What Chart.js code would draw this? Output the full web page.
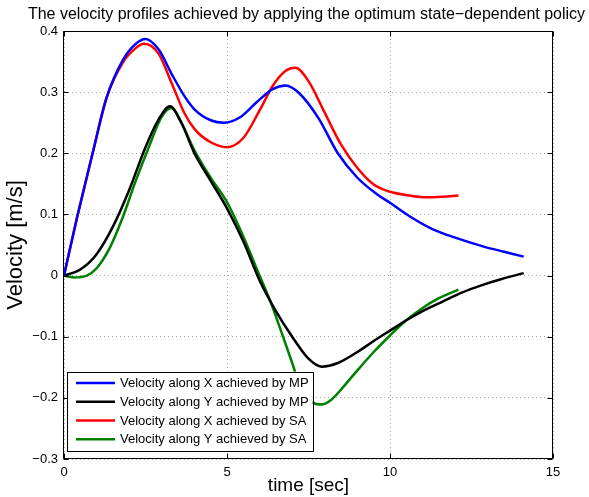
<!DOCTYPE html>
<html lang="en">
<head>
<meta charset="UTF-8">
<title>Velocity profiles</title>
<script src="https://cdn.jsdelivr.net/npm/chart.js"></script>
<style>
  html, body { margin: 0; padding: 0; background: #fff; }
</style>
</head>
<body>
<canvas id="velocityChart" width="589" height="497"></canvas>
<script>
// time [sec] / velocity [m/s] samples for each profile
const tXmp = [0, 0.4, 0.9, 1.3, 1.8, 2.2, 2.5, 2.9, 3.3, 3.7, 4.0, 4.5, 4.9, 5.4, 5.9, 6.4, 6.8, 7.2, 7.8, 8.4, 9.0, 9.6, 10.0, 10.6, 11.3, 12.0, 12.9, 13.5, 14.1];
const vXmp = [0, 0.095, 0.205, 0.29, 0.352, 0.379, 0.387, 0.37, 0.33, 0.293, 0.272, 0.254, 0.25, 0.259, 0.283, 0.305, 0.311, 0.299, 0.258, 0.2, 0.16, 0.133, 0.119, 0.097, 0.076, 0.062, 0.047, 0.039, 0.031];

const tYmp = [0, 0.5, 1.0, 1.5, 2.0, 2.5, 2.9, 3.25, 3.6, 4.0, 4.5, 5.0, 5.5, 6.0, 6.5, 7.0, 7.5, 7.9, 8.4, 9.0, 9.5, 10.0, 10.5, 11.0, 11.6, 12.2, 12.8, 13.4, 14.1];
const vYmp = [0, 0.01, 0.035, 0.08, 0.14, 0.21, 0.255, 0.277, 0.25, 0.2, 0.155, 0.11, 0.056, -0.008, -0.058, -0.1, -0.136, -0.149, -0.143, -0.125, -0.107, -0.09, -0.073, -0.058, -0.043, -0.028, -0.016, -0.006, 0.004];

const tXsa = [0, 0.4, 0.9, 1.3, 1.8, 2.2, 2.45, 2.9, 3.3, 3.7, 4.0, 4.5, 5.0, 5.5, 6.0, 6.4, 6.8, 7.1, 7.5, 8.0, 8.5, 9.0, 9.5, 10.0, 10.6, 11.1, 11.6, 12.1];
const vXsa = [0, 0.095, 0.205, 0.29, 0.348, 0.372, 0.379, 0.363, 0.315, 0.265, 0.24, 0.218, 0.21, 0.225, 0.27, 0.31, 0.335, 0.34, 0.318, 0.266, 0.214, 0.176, 0.149, 0.137, 0.131, 0.128, 0.129, 0.131];

const tYsa = [0, 0.3, 0.7, 1.0, 1.4, 1.8, 2.2, 2.6, 3.0, 3.3, 3.6, 4.0, 4.5, 5.0, 5.5, 6.0, 6.3, 6.7, 7.0, 7.3, 7.6, 7.9, 8.2, 8.6, 9.0, 9.5, 10.0, 10.5, 11.0, 11.5, 12.1];
const vYsa = [0, -0.003, 0.0, 0.012, 0.045, 0.095, 0.155, 0.21, 0.26, 0.274, 0.25, 0.205, 0.16, 0.12, 0.064, 0.0, -0.038, -0.097, -0.143, -0.19, -0.207, -0.211, -0.203, -0.18, -0.155, -0.125, -0.098, -0.073, -0.053, -0.037, -0.023];

const seriesNames = [
  'Velocity along X achieved by MP',
  'Velocity along Y achieved by MP',
  'Velocity along X achieved by SA',
  'Velocity along Y achieved by SA'
];

const xTickValues = [0, 5, 10, 15];
const xTickLabels = ['0', '5', '10', '15'];
const yTickValues = [-0.3, -0.2, -0.1, 0, 0.1, 0.2, 0.3, 0.4];
const yTickLabels = ['\u22120.3', '\u22120.2', '\u22120.1', '0', '0.1', '0.2', '0.3', '0.4'];

const chartTitle = 'The velocity profiles achieved by applying the optimum state\u2212dependent policy';

const FONT = '"Liberation Sans", Arial, Helvetica, sans-serif';

function toPoints(ts, vs) {
  return ts.map((t, i) => ({ x: t, y: vs[i] }));
}

function makeSet(label, ts, vs, color) {
  return {
    label: label,
    data: toPoints(ts, vs),
    borderColor: color,
    backgroundColor: color,
    borderWidth: 2.5,
    pointRadius: 0,
    cubicInterpolationMode: 'monotone',
    fill: false
  };
}

// MATLAB-style box, inward tick marks, title and the legend in the lower-left corner
const axesBox = {
  id: 'axesBox',
  afterDraw(chart) {
    const { ctx, chartArea: a, scales } = chart;
    const L = Math.round(a.left) - 0.5, R = Math.round(a.right) - 0.5;
    const T = Math.round(a.top) + 0.5, B = Math.round(a.bottom) - 0.5;
    ctx.save();
    ctx.strokeStyle = '#000';
    ctx.lineWidth = 1;
    ctx.beginPath();
    ctx.rect(L, T, R - L, B - T);
    ctx.stroke();

    const tick = 5;
    ctx.beginPath();
    xTickValues.forEach(v => {
      const px = Math.round(scales.x.getPixelForValue(v)) + 0.5;
      ctx.moveTo(px, B); ctx.lineTo(px, B - tick);
      ctx.moveTo(px, T); ctx.lineTo(px, T + tick);
    });
    yTickValues.forEach(v => {
      const py = Math.round(scales.y.getPixelForValue(v)) + 0.5;
      ctx.moveTo(L, py); ctx.lineTo(L + tick, py);
      ctx.moveTo(R, py); ctx.lineTo(R - tick, py);
    });
    ctx.stroke();

    // title above the axes
    ctx.fillStyle = '#000';
    ctx.font = '16px ' + FONT;
    ctx.textAlign = 'center';
    ctx.textBaseline = 'middle';
    ctx.fillText(chartTitle, (a.left + a.right) / 2 - 2, 15);

    // legend
    ctx.font = '13px ' + FONT;
    const rowH = 18.7;
    const sets = chart.data.datasets;
    const textW = Math.max(...sets.map(d => ctx.measureText(d.label).width));
    const bx = L + 3.5, bw = 53 + textW + 4;
    const bh = rowH * sets.length + 4;
    const by = B - 8 - bh;
    ctx.fillStyle = '#fff';
    ctx.fillRect(bx, by, bw, bh);
    ctx.strokeStyle = '#000';
    ctx.lineWidth = 1;
    ctx.strokeRect(Math.round(bx) + 0.5, Math.round(by) + 0.5, Math.round(bw), Math.round(bh));
    ctx.textAlign = 'left';
    sets.forEach((d, i) => {
      const cy = by + 2 + rowH * (i + 0.5);
      ctx.strokeStyle = d.borderColor;
      ctx.lineWidth = 2.5;
      ctx.beginPath();
      ctx.moveTo(bx + 9, cy);
      ctx.lineTo(bx + 48, cy);
      ctx.stroke();
      ctx.fillStyle = '#000';
      ctx.fillText(d.label, bx + 53, cy + 0.5);
    });
    ctx.restore();
  }
};

const ctx = document.getElementById('velocityChart').getContext('2d');
new Chart(ctx, {
  type: 'line',
  data: {
    datasets: [
      makeSet(seriesNames[0], tXmp, vXmp, '#0000ff'),
      makeSet(seriesNames[1], tYmp, vYmp, '#000000'),
      makeSet(seriesNames[2], tXsa, vXsa, '#ff0000'),
      makeSet(seriesNames[3], tYsa, vYsa, '#008000')
    ]
  },
  options: {
    responsive: false,
    animation: false,
    devicePixelRatio: 1,
    layout: { padding: { left: 0, right: 36, top: 31, bottom: 0 } },
    plugins: {
      legend: { display: false },
      tooltip: { enabled: false },
      title: { display: false }
    },
    scales: {
      x: {
        type: 'linear',
        min: 0,
        max: 15,
        afterBuildTicks: s => { s.ticks = xTickValues.map(v => ({ value: v })); },
        afterFit: s => { s.height = 38; },
        ticks: {
          color: '#000',
          font: { family: FONT, size: 13 },
          padding: 6,
          maxRotation: 0,
          callback: (v) => xTickLabels[xTickValues.indexOf(v)]
        },
        grid: { color: '#a8a8a8', lineWidth: 1, drawTicks: false },
        border: { display: false, dash: [1, 3] },
        title: {
          display: true,
          text: 'time [sec]',
          color: '#000',
          font: { family: FONT, size: 19, lineHeight: 1.2 },
          padding: 0
        }
      },
      y: {
        type: 'linear',
        min: -0.3,
        max: 0.4,
        afterBuildTicks: s => { s.ticks = yTickValues.map(v => ({ value: v })); },
        afterFit: s => { s.width = 64; },
        ticks: {
          color: '#000',
          font: { family: FONT, size: 13 },
          padding: 6,
          callback: (v) => {
            const i = yTickValues.findIndex(t => Math.abs(t - v) < 1e-9);
            return yTickLabels[i];
          }
        },
        grid: { color: '#a8a8a8', lineWidth: 1, drawTicks: false },
        border: { display: false, dash: [1, 3] },
        title: {
          display: true,
          text: 'Velocity [m/s]',
          color: '#000',
          font: { family: FONT, size: 22, lineHeight: 1.2 },
          padding: { top: 3, bottom: 0 }
        }
      }
    }
  },
  plugins: [axesBox]
});
</script>
</body>
</html>
